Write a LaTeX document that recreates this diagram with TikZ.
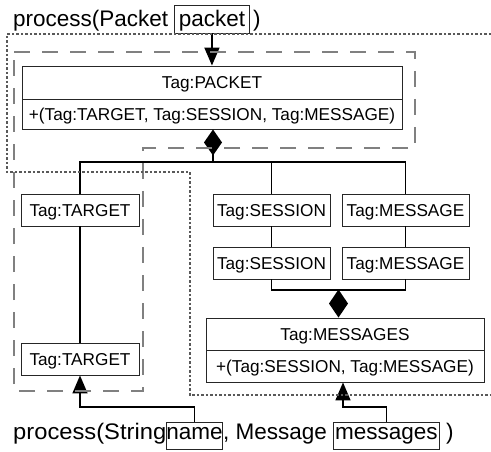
\documentclass[tikz,border=0pt]{standalone}
\usepackage{fontspec}
\setmainfont{Liberation Sans}
\usetikzlibrary{arrows.meta}
\begin{document}
\begin{tikzpicture}[x=1pt,y=-1pt,
  tagbox/.style={draw=black!85, line width=0.9pt, font=\fontsize{17.2}{20}\selectfont,
    text height=13pt, text depth=0pt, inner sep=0pt, minimum height=32pt},
  argbox/.style={draw=black!85, line width=0.9pt, font=\fontsize{22.5}{26}\selectfont,
    inner sep=0pt, anchor=base west},
  sig/.style={font=\fontsize{22.5}{26}\selectfont, inner sep=0pt, anchor=base west},
  link/.style={line width=1.7pt},
  callarrow/.style={link, -{Triangle[length=18pt,width=15pt]}},
  groupframe/.style={draw=black!50, line width=1.5pt, dash pattern=on 16pt off 12pt},
  scopeframe/.style={draw=black!65, line width=1.3pt, dash pattern=on 2.5pt off 2pt}]
\useasboundingbox (0,0) rectangle (491,452);

% signature of the packet handler
\node[sig] (sigA) at (13,27) {process(Packet};
\node[argbox, minimum width=75pt, text height=22pt, text depth=6pt] (packetarg) at (174,27) {packet};
\node[sig] (closeA) at (253,27) {)};

% packet tag with its components
\node[tagbox, minimum width=380pt, minimum height=33pt] (pk) at (212,82.5) {Tag:PACKET};
\node[tagbox, minimum width=380pt, minimum height=30pt] (pka) at (212,114) {+(Tag:TARGET, Tag:SESSION, Tag:MESSAGE)};

\node[tagbox, minimum width=118pt] (tg1) at (80,210) {Tag:TARGET};
\node[tagbox, minimum width=117pt] (ss1) at (271.5,210) {Tag:SESSION};
\node[tagbox, minimum width=127pt] (ms1) at (405.5,210) {Tag:MESSAGE};
\node[tagbox, minimum width=117pt] (ss2) at (271.5,263) {Tag:SESSION};
\node[tagbox, minimum width=127pt] (ms2) at (405.5,263) {Tag:MESSAGE};
\node[tagbox, minimum width=118pt] (tg2) at (80,359) {Tag:TARGET};

\node[tagbox, minimum width=278pt] (msg) at (345,334) {Tag:MESSAGES};
\node[tagbox, minimum width=278pt] (msga) at (345,366) {+(Tag:SESSION, Tag:MESSAGE)};

% signature of the message handler
\node[sig] (sigB) at (13,439) {\scalebox{1.055}[1]{process(String}};
\node[argbox, minimum width=54pt, text height=17pt, text depth=10pt] (namearg) at (166,439) {name};
\node[sig] (sepB) at (223,439) {, Message};
\node[argbox, minimum width=106pt, text height=17pt, text depth=10pt] (msgsarg) at (333,439) {messages};
\node[sig] (closeB) at (446,439) {)};

% junction points
\coordinate (j1) at (213,162);
\coordinate (j2) at (338.5,290);
\coordinate (k1) at (80,407);
\coordinate (k2) at (343,407);

% connectors
\draw[callarrow] (packetarg.south) -- (packetarg.south |- pk.north);
\draw[link, {Diamond[length=26pt,width=18pt]}-] (j1 |- pka.south) -- (j1);
\draw[link] (tg1.north) |- (j1) -| (ms1.north);
\draw[link] (ss1.north) -- (ss1.north |- j1);
\draw[link] (tg1.south) -- (tg2.north);
\draw[link] (ss1.south) -- (ss2.north);
\draw[link] (ms1.south) -- (ms2.north);
\draw[link] (ss2.south) |- (j2) -| (ms2.south);
\draw[link, -{Diamond[length=28pt,width=19pt]}] (j2) -- (j2 |- msg.north);
\draw[callarrow] (namearg.north) |- (k1) -- (tg2.south);
\draw[callarrow] (msgsarg.north) |- (k2) -- (k2 |- msga.south);

% grouping frames
\draw[groupframe] (14,52) -- (415,52) -- (415,148) -- (143,148) -- (143,391) -- (14,391) -- cycle;
\draw[scopeframe] (491,34) -- (7,34) -- (7,172) -- (190,172) -- (190,395) -- (491,395);
\end{tikzpicture}
\end{document}
